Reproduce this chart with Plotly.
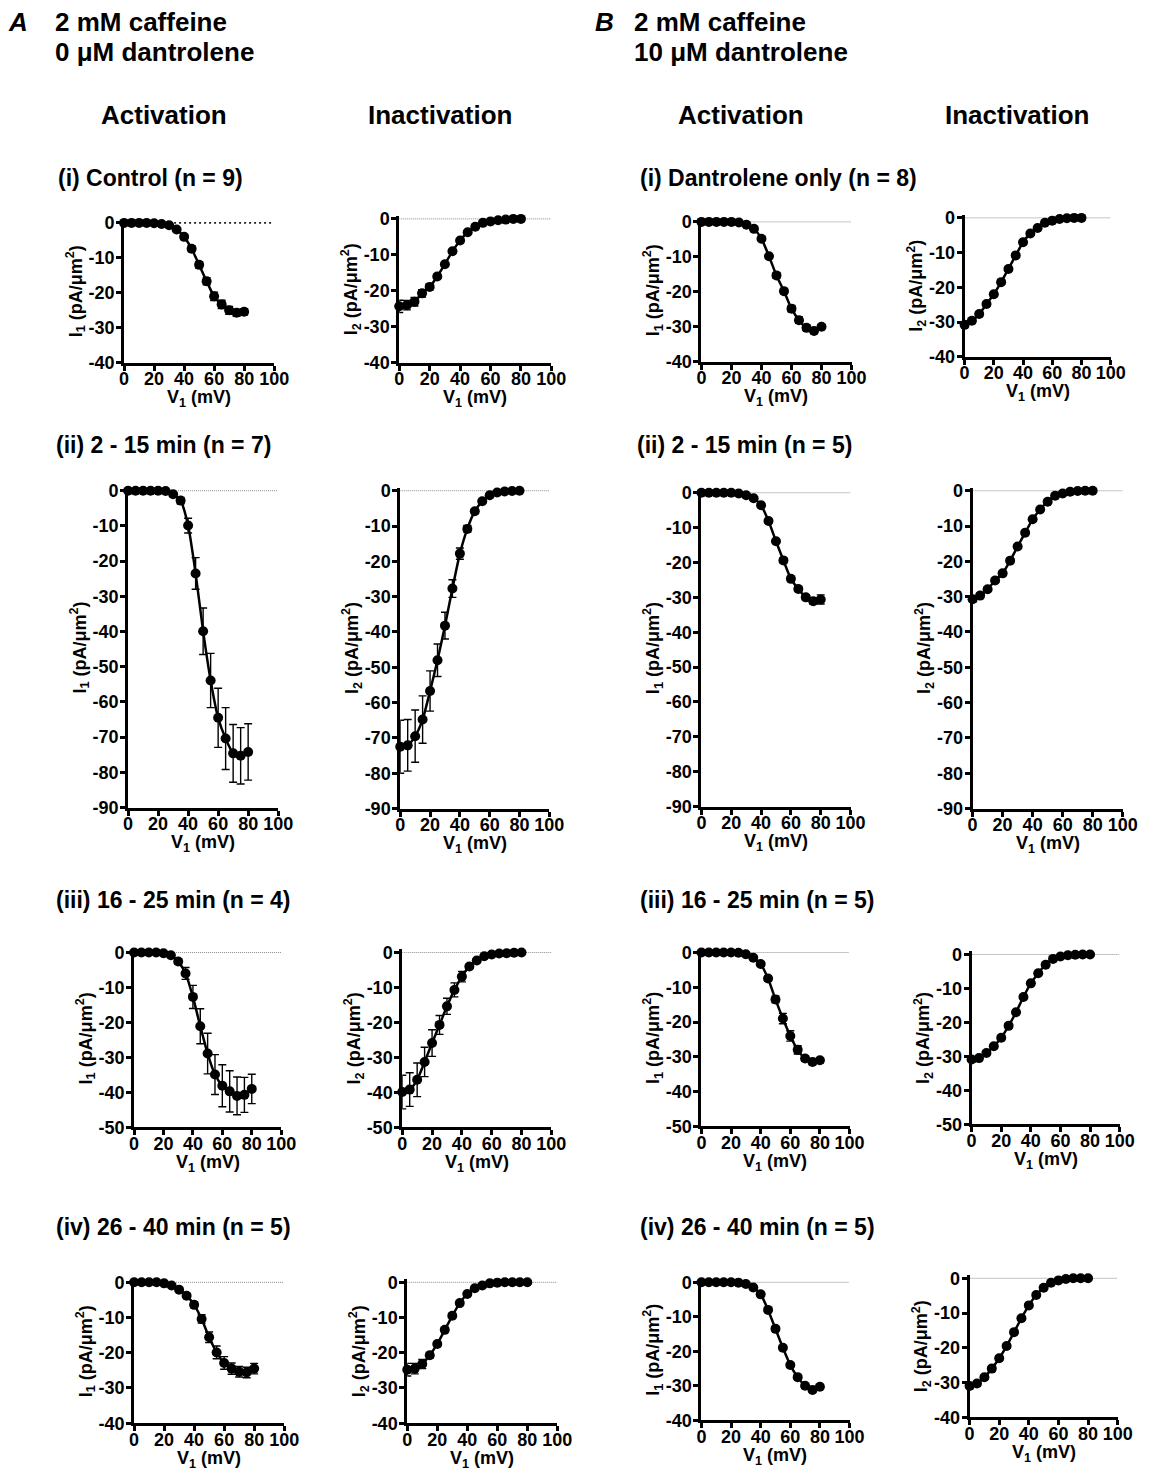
import plotly.graph_objects as go

# ---------------- data ----------------
V1 = [0, 5, 10, 15, 20, 25, 30, 35, 40, 45, 50, 55, 60, 65, 70, 75, 80]

# A: 2 mM caffeine, 0 uM dantrolene
A_i_act = [0, 0, 0, 0, -0.1, -0.3, -0.7, -1.9, -4.0, -7.4, -12.0, -16.7, -21.0, -23.3, -25.0, -25.7, -25.4]
A_i_act_err = [0.1, 0.1, 0.1, 0.1, 0.1, 0.2, 0.3, 0.4, 0.6, 0.8, 0.9, 1.0, 1.2, 1.2, 1.1, 1.0, 0.9]
A_i_inact = [-24.3, -24.0, -23.0, -20.7, -18.9, -16.0, -12.6, -9.0, -6.0, -3.7, -2.2, -1.1, -0.7, -0.4, -0.2, 0.0, 0.0]
A_i_inact_err = [1.7, 1.3, 1.2, 1.0, 0.8, 0.6, 0.5, 0.5, 0.4, 0.3, 0.2, 0.1, 0.1, 0.1, 0.1, 0.1, 0.1]

A_ii_act = [0, 0, 0, 0, 0, -0.1, -1.0, -2.8, -9.9, -23.5, -39.9, -53.9, -64.5, -70.4, -74.6, -75.3, -74.2]
A_ii_act_err = [0.1, 0.1, 0.1, 0.1, 0.1, 0.2, 0.4, 0.9, 2.1, 4.5, 6.6, 7.7, 8.4, 8.8, 8.2, 8.0, 8.0]
A_ii_inact = [-72.5, -72.1, -69.5, -64.8, -56.7, -48.0, -38.2, -27.7, -17.8, -10.8, -5.8, -3.0, -1.3, -0.5, -0.2, -0.1, 0.0]
A_ii_inact_err = [7.5, 7.3, 7.4, 6.7, 5.7, 4.6, 3.8, 2.5, 1.6, 1.0, 0.6, 0.4, 0.2, 0.1, 0.1, 0.1, 0.1]

A_iii_act = [0, 0, 0, 0, -0.2, -0.8, -2.6, -6.0, -12.7, -21.1, -28.9, -34.9, -38.1, -39.7, -41.0, -40.7, -39.0]
A_iii_act_err = [0.1, 0.1, 0.1, 0.1, 0.2, 0.4, 0.8, 1.7, 3.3, 5.0, 5.8, 5.7, 6.0, 5.9, 5.4, 5.0, 4.2]
A_iii_inact = [-39.9, -39.2, -36.4, -31.3, -25.9, -20.7, -15.4, -10.7, -6.9, -4.0, -2.3, -1.1, -0.6, -0.3, -0.2, -0.1, 0.0]
A_iii_inact_err = [4.8, 4.8, 4.8, 4.2, 3.8, 2.7, 2.3, 2.0, 1.5, 0.6, 0.4, 0.3, 0.2, 0.1, 0.1, 0.1, 0.1]

A_iv_act = [0, 0, 0, 0, -0.3, -0.9, -2.1, -3.8, -6.4, -10.4, -15.6, -19.9, -22.9, -24.5, -25.4, -25.6, -24.5]
A_iv_act_err = [0.1, 0.1, 0.1, 0.1, 0.1, 0.2, 0.3, 0.5, 0.8, 1.2, 1.5, 1.8, 1.8, 1.6, 1.5, 1.5, 1.5]
A_iv_inact = [-24.8, -24.5, -23.2, -20.7, -17.5, -13.5, -9.5, -5.9, -3.3, -1.7, -0.9, -0.3, -0.1, 0, 0, 0, 0]
A_iv_inact_err = [1.8, 1.5, 1.3, 0.8, 0.6, 0.5, 0.5, 0.4, 0.3, 0.2, 0.1, 0.1, 0.1, 0.1, 0.1, 0.1, 0.1]

# B: 2 mM caffeine, 10 uM dantrolene
B_i_act = [0, 0, 0, 0, 0, -0.2, -0.8, -2.0, -4.8, -9.8, -15.3, -19.8, -24.8, -28.1, -30.3, -31.2, -30.0]
B_i_act_err = [0.1, 0.1, 0.1, 0.1, 0.1, 0.1, 0.2, 0.3, 0.4, 0.5, 0.8, 0.7, 0.9, 0.9, 0.8, 0.7, 0.6]
B_i_inact = [-30.8, -29.6, -27.7, -24.8, -22.0, -18.5, -14.7, -10.8, -7.0, -4.5, -2.9, -1.4, -0.8, -0.3, -0.1, 0, 0]
B_i_inact_err = [0.8, 0.7, 0.6, 0.6, 0.6, 0.6, 0.6, 0.5, 0.4, 0.3, 0.2, 0.1, 0.1, 0.1, 0.1, 0.1, 0.1]

B_ii_act = [0, 0, 0, 0, 0, -0.2, -0.7, -1.6, -3.6, -8.1, -13.9, -19.4, -24.7, -27.6, -30.0, -31.1, -30.6]
B_ii_act_err = [0.1, 0.1, 0.1, 0.1, 0.1, 0.1, 0.2, 0.3, 0.4, 0.5, 0.6, 0.7, 0.7, 0.7, 0.7, 0.8, 1.3]
B_ii_inact = [-30.7, -29.7, -27.9, -25.4, -23.4, -19.8, -15.8, -11.9, -8.1, -5.3, -3.1, -1.4, -0.8, -0.3, -0.1, 0, 0]
B_ii_inact_err = [0.8, 0.7, 0.6, 0.6, 0.6, 0.6, 0.6, 0.5, 0.4, 0.3, 0.2, 0.1, 0.1, 0.1, 0.1, 0.1, 0.1]

B_iii_act = [0, 0, 0, 0, 0, -0.1, -0.5, -1.5, -3.3, -7.5, -13.5, -19.0, -24.0, -28.0, -30.5, -31.5, -31.0]
B_iii_act_err = [0.1, 0.1, 0.1, 0.1, 0.1, 0.1, 0.2, 0.3, 0.5, 0.8, 1.0, 1.5, 1.5, 1.2, 0.8, 0.7, 0.7]
B_iii_inact = [-30.9, -30.5, -29.0, -27.0, -24.5, -21.0, -17.0, -12.5, -8.5, -5.5, -3.0, -1.3, -0.6, -0.2, -0.1, 0, 0]
B_iii_inact_err = [0.8, 0.7, 0.6, 0.6, 0.6, 0.6, 0.6, 0.5, 0.4, 0.3, 0.2, 0.1, 0.1, 0.1, 0.1, 0.1, 0.1]

B_iv_act = [0, 0, 0, 0, 0, -0.1, -0.5, -1.5, -3.5, -8.0, -13.5, -19.0, -24.0, -27.5, -30.0, -31.2, -30.3]
B_iv_act_err = [0.1, 0.1, 0.1, 0.1, 0.1, 0.1, 0.2, 0.3, 0.4, 0.5, 0.6, 0.6, 0.6, 0.6, 0.6, 0.6, 0.6]
B_iv_inact = [-31.0, -30.3, -28.5, -26.0, -23.0, -19.5, -15.5, -11.5, -7.8, -4.8, -2.7, -1.3, -0.6, -0.2, 0, 0, 0]
B_iv_inact_err = [0.8, 0.7, 0.6, 0.6, 0.6, 0.6, 0.6, 0.5, 0.4, 0.3, 0.2, 0.1, 0.1, 0.1, 0.1, 0.1, 0.1]

X_TICKS = [0, 20, 40, 60, 80, 100]

# ---------------- layout ----------------
W, H = 1150, 1473
FONT = "Liberation Sans, Arial, Helvetica, sans-serif"

# calibration between target picture pixels and figure pixels
OX, SX = 4.0, 0.982
OY, SY = 7.0, 0.989


def fx(px):
    return ((px - OX) / SX) / W


def fy(py):
    return 1 - ((py - OY) / SY) / H


# (values, errors, current label, y-min, target-pixel box left,right,y0,bottom)
panels = [
    (A_i_act, A_i_act_err, "1", -40, (123, 273, 223, 363)),
    (A_i_inact, A_i_inact_err, "2", -40, (398, 550, 219, 363)),
    (B_i_act, B_i_act_err, "1", -40, (700, 850, 222, 362)),
    (B_i_inact, B_i_inact_err, "2", -40, (963, 1109, 218, 357)),
    (A_ii_act, A_ii_act_err, "1", -90, (127, 277, 491, 808)),
    (A_ii_inact, A_ii_inact_err, "2", -90, (399, 548, 491, 809)),
    (B_ii_act, B_ii_act_err, "1", -90, (700, 849, 493, 807)),
    (B_ii_inact, B_ii_inact_err, "2", -90, (971, 1121, 491, 809)),
    (A_iii_act, A_iii_act_err, "1", -50, (133, 280, 953, 1128)),
    (A_iii_inact, A_iii_inact_err, "2", -50, (401, 550, 953, 1128)),
    (B_iii_act, B_iii_act_err, "1", -50, (700, 848, 953, 1127)),
    (B_iii_inact, B_iii_inact_err, "2", -50, (970, 1118, 955, 1125)),
    (A_iv_act, A_iv_act_err, "1", -40, (133, 283, 1283, 1424)),
    (A_iv_inact, A_iv_inact_err, "2", -40, (406, 556, 1283, 1424)),
    (B_iv_act, B_iv_act_err, "1", -40, (700, 848, 1283, 1421)),
    (B_iv_inact, B_iv_inact_err, "2", -40, (968, 1116, 1279, 1418)),
]

fig = go.Figure()
layout_axes = {}
PAD = 0.9  # small headroom above zero so the line on 0 is not clipped

tick_font = dict(family=FONT, size=18, color="black", weight="bold")
title_font = dict(family=FONT, size=18, color="black", weight="bold")

annotations = []


def ann(text, px, py, size, xanchor="left"):
    return dict(text=text, x=fx(px), y=fy(py), xref="paper", yref="paper",
                xanchor=xanchor, yanchor="middle", showarrow=False,
                font=dict(family=FONT, size=size, color="black", weight="bold"))


for k, (vals, errs, lab, ymin, box) in enumerate(panels):
    i = k + 1
    xa = "x" if i == 1 else f"x{i}"
    ya = "y" if i == 1 else f"y{i}"
    left, right, y0, bottom = box
    scale = (bottom - y0) / (-ymin)
    top = y0 - PAD * scale

    if i == 1:
        zl = dict(color="#222", width=1.6, dash="2px,3px")
    else:
        zl = dict(color="#8a8a8a", width=1, dash="1px,1px")
    fig.add_trace(go.Scatter(x=[0, 100], y=[0, 0], mode="lines", line=zl,
                             xaxis=xa, yaxis=ya, showlegend=False, hoverinfo="skip"))
    fig.add_trace(go.Scatter(
        x=V1, y=vals, mode="lines+markers",
        line=dict(color="black", width=2.5, shape="spline", smoothing=0.6),
        marker=dict(color="black", size=10),
        error_y=dict(type="data", array=errs, color="black", thickness=1.4, width=4),
        cliponaxis=False, xaxis=xa, yaxis=ya, showlegend=False))

    yt = list(range(ymin, 1, 10))
    layout_axes["xaxis" if i == 1 else f"xaxis{i}"] = dict(
        domain=[fx(left), fx(right)], range=[0, 100], anchor=ya,
        tickvals=X_TICKS, ticktext=[str(v) for v in X_TICKS],
        showline=True, linewidth=3, linecolor="black", mirror=False,
        ticks="outside", ticklen=5, tickwidth=2.5, tickcolor="black",
        tickfont=tick_font, ticklabelstandoff=-7,
        showgrid=False, zeroline=False, fixedrange=True)
    layout_axes["yaxis" if i == 1 else f"yaxis{i}"] = dict(
        domain=[fy(bottom), fy(top)], range=[ymin, PAD], anchor=xa,
        tickvals=yt, ticktext=[str(v) for v in yt],
        showline=True, linewidth=3, linecolor="black",
        ticks="outside", ticklen=5, tickwidth=2.5, tickcolor="black",
        tickfont=tick_font, ticklabelstandoff=-2,
        showgrid=False, zeroline=False,
        title=dict(text=f"I<sub>{lab}</sub> (pA/\u03bcm<sup>2</sup>)", font=title_font, standoff=0),
        fixedrange=True)
    # x-axis title placed as annotation for precise positioning
    annotations.append(ann("V<sub>1</sub> (mV)", (left + right) / 2, bottom + 36, 18, "center"))

fig.update_layout(**layout_axes)

annotations += [
    ann("<i>A</i>", 5, 22, 26),
    ann("2 mM caffeine", 52, 22, 26),
    ann("0 \u03bcM dantrolene", 52, 52, 26),
    ann("<i>B</i>", 592, 22, 26),
    ann("2 mM caffeine", 631, 22, 26),
    ann("10 \u03bcM dantrolene", 631, 52, 26),
    ann("Activation", 163, 115, 26, "center"),
    ann("Inactivation", 439, 115, 26, "center"),
    ann("Activation", 740, 115, 26, "center"),
    ann("Inactivation", 1015, 115, 26, "center"),
    ann("(i) Control (n = 9)", 55, 178, 23),
    ann("(i) Dantrolene only (n = 8)", 637, 178, 23),
    ann("(ii) 2 - 15 min (n = 7)", 53, 445, 23),
    ann("(ii) 2 - 15 min (n = 5)", 634, 445, 23),
    ann("(iii) 16 - 25 min (n = 4)", 53, 900, 23),
    ann("(iii) 16 - 25 min (n = 5)", 637, 900, 23),
    ann("(iv) 26 - 40 min (n = 5)", 53, 1228, 23),
    ann("(iv) 26 - 40 min (n = 5)", 637, 1228, 23),
]

fig.update_layout(
    width=W, height=H, autosize=False,
    margin=dict(l=0, r=0, t=0, b=0),
    paper_bgcolor="white", plot_bgcolor="white",
    showlegend=False, annotations=annotations,
    font=dict(family=FONT, color="black"),
)

fig.write_html(
    "out.html",
    config={"displayModeBar": False},
    post_script="document.body.style.margin='0';document.body.style.padding='0';document.body.style.overflow='hidden';",
)
